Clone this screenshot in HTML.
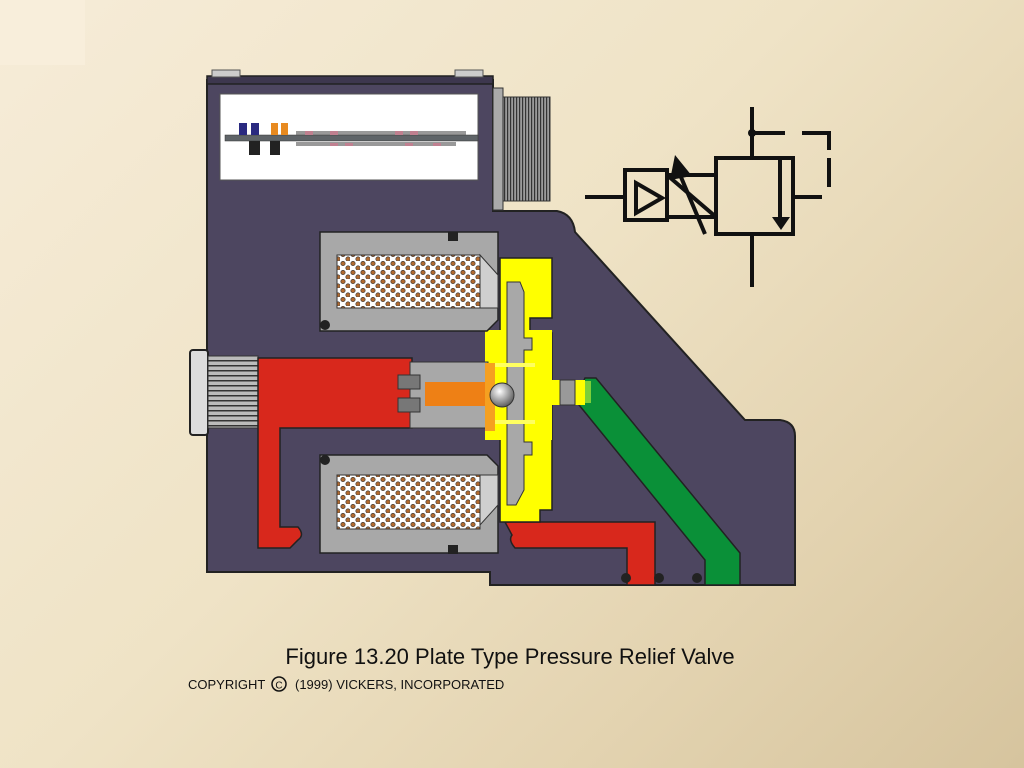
<!DOCTYPE html>
<html><head><meta charset="utf-8"><style>
html,body{margin:0;padding:0}
body{width:1024px;height:768px;overflow:hidden;background:linear-gradient(135deg,#f6ecd8 0%,#efe3c6 45%,#e3d3b0 75%,#d6c49e 100%);font-family:"Liberation Sans",sans-serif}
</style></head><body>
<div style="position:absolute;left:0;top:0;width:85px;height:65px;background:#f8eedb"></div>
<svg width="1024" height="768" viewBox="0 0 1024 768" style="position:absolute;left:0;top:0">
<defs>
<pattern id="dots" width="10" height="9" patternUnits="userSpaceOnUse">
<rect width="10" height="9" fill="#fff"/>
<circle cx="3" cy="2.5" r="2.2" fill="#b06a30" stroke="#333" stroke-width="0.6"/>
<circle cx="8" cy="7" r="2.2" fill="#b06a30" stroke="#333" stroke-width="0.6"/>
</pattern>
<pattern id="thr" width="3" height="10" patternUnits="userSpaceOnUse">
<rect width="3" height="10" fill="#9a9a9a"/><rect width="1.2" height="10" fill="#333"/>
</pattern>
<pattern id="thrh" width="10" height="5" patternUnits="userSpaceOnUse">
<rect width="10" height="5" fill="#bbb"/><rect width="10" height="1.5" fill="#333"/>
</pattern>
<radialGradient id="ball" cx="0.4" cy="0.35" r="0.7"><stop offset="0" stop-color="#fff"/><stop offset="1" stop-color="#555"/></radialGradient>
</defs>
<path d="M207,80 H493 V211 H557 Q573,214 575,232 L745,420 H780 Q795,422 795,436 V585 H490 V572 H207 Z" fill="#4d4660" stroke="#222" stroke-width="2"/>
<rect x="207" y="76" width="286" height="8" fill="#3d374e" stroke="#222" stroke-width="1.5"/>
<rect x="212" y="70" width="28" height="7" fill="#ccc" stroke="#555"/>
<rect x="455" y="70" width="28" height="7" fill="#ccc" stroke="#555"/>
<rect x="220" y="94" width="258" height="86" fill="#fff" stroke="#555"/>
<rect x="225" y="135" width="253" height="6" fill="#5f6468" stroke="#333" stroke-width="0.5"/>
<rect x="239" y="123" width="8" height="12" fill="#2a2a80"/><rect x="251" y="123" width="8" height="12" fill="#2a2a80"/>
<rect x="271" y="123" width="7" height="12" fill="#e88a20"/><rect x="281" y="123" width="7" height="12" fill="#e88a20"/>
<rect x="249" y="141" width="11" height="14" fill="#222"/><rect x="270" y="141" width="10" height="14" fill="#222"/>
<g fill="#555"><rect x="296" y="131" width="170" height="4" opacity="0.6"/><rect x="296" y="142" width="160" height="4" opacity="0.6"/></g>
<g fill="#c08090"><rect x="305" y="131" width="8" height="4"/><rect x="330" y="131" width="8" height="4"/><rect x="395" y="131" width="8" height="4"/><rect x="410" y="131" width="8" height="4"/><rect x="330" y="143" width="8" height="3"/><rect x="345" y="143" width="8" height="3"/><rect x="405" y="143" width="8" height="3"/><rect x="433" y="143" width="8" height="3"/></g>
<rect x="493" y="88" width="10" height="122" fill="#aaa" stroke="#333"/>
<rect x="503" y="97" width="47" height="104" fill="url(#thr)" stroke="#333"/>
<rect x="190" y="350" width="18" height="85" rx="3" fill="#ddd" stroke="#222" stroke-width="2"/>
<rect x="208" y="356" width="50" height="72" fill="url(#thrh)" stroke="#333"/>
<path d="M258,358 H412 V428 H280 V527 H298 Q305,535 298,540 L290,548 H258 Z" fill="#d8281c" stroke="#222" stroke-width="1.5"/>
<path d="M505,522 H655 V585 H627 V548 H515 Q508,540 512,535 Z" fill="#d8281c" stroke="#222" stroke-width="1.5"/>
<path d="M585,378 H596 L740,553 V585 H705 V560 L575,400 Z" fill="#0a9038" stroke="#222" stroke-width="1.5"/>
<rect x="583" y="381" width="8" height="22" fill="#7ccf3a"/>
<path d="M500,258 H552 V318 H530 V333 H552 V510 H540 V522 H500 Z" fill="#ffff00" stroke="#222" stroke-width="1.5"/>
<path d="M485,330 H552 V440 H485 Z" fill="#ffff00"/>
<rect x="552" y="380" width="33" height="25" fill="#ffff00"/>
<path d="M507,282 H520 L524,292 V338 H532 V350 H524 V442 H532 V455 H524 V490 L516,505 H507 Z" fill="#a8a8a8" stroke="#333"/>
<rect x="410" y="362" width="78" height="66" fill="#a8a8a8" stroke="#333"/>
<rect x="425" y="382" width="68" height="24" fill="#ee8015"/>
<rect x="398" y="375" width="22" height="14" fill="#777" stroke="#333"/>
<rect x="398" y="398" width="22" height="14" fill="#777" stroke="#333"/>
<rect x="485" y="363" width="10" height="68" fill="#f5a020"/>
<rect x="495" y="363" width="40" height="4" fill="#ffff60"/><rect x="495" y="420" width="40" height="4" fill="#ffff60"/>
<circle cx="502" cy="395" r="12" fill="url(#ball)" stroke="#333"/>
<path d="M560,380 H575 V405 H560 Z" fill="#999" stroke="#333"/>
<path d="M320,232 H498 V320 L487,331 H320 Z" fill="#a8a8a8" stroke="#222" stroke-width="1.5"/>
<rect x="337" y="255" width="143" height="53" fill="url(#dots)" stroke="#333"/>
<path d="M480,255 L498,275 V308 H480 Z" fill="#cfcfcf" stroke="#333"/>
<circle cx="325" cy="325" r="5" fill="#222"/><rect x="448" y="232" width="10" height="9" fill="#222"/>
<path d="M320,455 H487 L498,466 V553 H320 Z" fill="#a8a8a8" stroke="#222" stroke-width="1.5"/>
<rect x="337" y="475" width="143" height="54" fill="url(#dots)" stroke="#333"/>
<path d="M480,475 H498 V505 L480,525 Z" fill="#cfcfcf" stroke="#333"/>
<circle cx="325" cy="460" r="5" fill="#222"/><rect x="448" y="545" width="10" height="9" fill="#222"/>
<g fill="#222"><circle cx="626" cy="578" r="5"/><circle cx="659" cy="578" r="5"/><circle cx="697" cy="578" r="5"/></g>
<g stroke="#111" stroke-width="4" fill="none">
<line x1="752" y1="107" x2="752" y2="157"/><line x1="752" y1="234" x2="752" y2="287"/>
<line x1="752" y1="133" x2="785" y2="133"/><line x1="802" y1="133" x2="831" y2="133"/>
<line x1="829" y1="131" x2="829" y2="150"/><line x1="829" y1="158" x2="829" y2="187"/>
<rect x="716" y="158" width="77" height="76"/>
<line x1="793" y1="197" x2="822" y2="197"/>
<line x1="780" y1="160" x2="780" y2="218"/>
<line x1="585" y1="197" x2="625" y2="197"/>
<rect x="625" y="170" width="42" height="50"/>
<path d="M636,183 L662,198 L636,213 Z"/>
<line x1="667" y1="175" x2="716" y2="175"/><line x1="667" y1="217" x2="716" y2="217"/>
<line x1="667" y1="175" x2="716" y2="217"/>
<line x1="705" y1="234" x2="678" y2="170"/>
</g>
<circle cx="752" cy="133" r="4" fill="#111"/>
<path d="M772,217 H790 L781,230 Z" fill="#111"/>
<path d="M675,155 L692,176 L670,180 Z" fill="#111"/>
<text x="510" y="664" font-size="22" text-anchor="middle" fill="#111" font-family="Liberation Sans, sans-serif">Figure 13.20 Plate Type Pressure Relief Valve</text>
<text x="188" y="689" font-size="13" fill="#111" font-family="Liberation Sans, sans-serif">COPYRIGHT</text>
<circle cx="279" cy="684" r="7" fill="none" stroke="#111" stroke-width="1.5"/>
<text x="279" y="688.5" font-size="10" text-anchor="middle" fill="#111" font-family="Liberation Sans, sans-serif">C</text>
<text x="295" y="689" font-size="13" fill="#111" font-family="Liberation Sans, sans-serif">(1999) VICKERS, INCORPORATED</text>
</svg>
</body></html>
